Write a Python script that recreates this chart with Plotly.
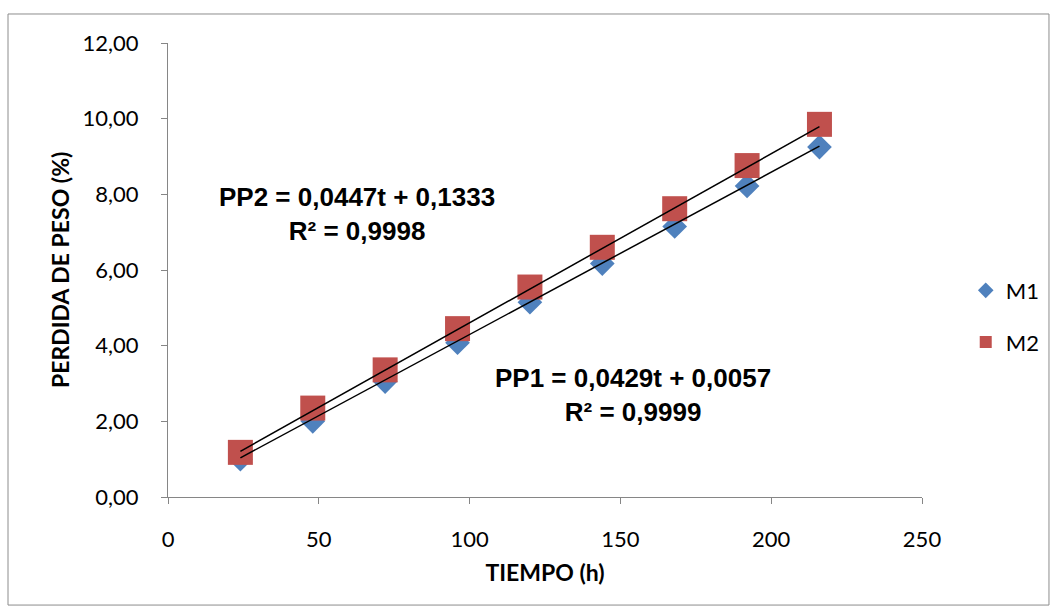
import plotly.graph_objects as go

# Tiempo de ensayo (h)
tiempo = [24, 48, 72, 96, 120, 144, 168, 192, 216]

# Pérdida de peso (%) por muestra
m1 = [1.00, 2.00, 3.05, 4.08, 5.15, 6.17, 7.15, 8.22, 9.25]
m2 = [1.18, 2.35, 3.36, 4.45, 5.55, 6.60, 7.62, 8.76, 9.85]

# Ajustes lineales: pendiente, intercepto, R²
pp1 = (0.0429, 0.0057, 0.9999)
pp2 = (0.0447, 0.1333, 0.9998)

y_ticks = [0, 2, 4, 6, 8, 10, 12]
x_ticks = [0, 50, 100, 150, 200, 250]

def trend(coef):
    a, b, _ = coef
    xs = [tiempo[0], tiempo[-1]]
    return xs, [a * x + b for x in xs]

fig = go.Figure()

fig.add_trace(go.Scatter(
    x=tiempo, y=m1, mode="markers", name="M1", legendgroup="m1",
    marker=dict(symbol="diamond", size=19, color="#4F81BD"),
))
fig.add_trace(go.Scatter(
    x=tiempo, y=m2, mode="markers", name="M2", legendgroup="m2",
    marker=dict(symbol="square", size=25, color="#C0504D"),
))

for coef in (pp1, pp2):
    xs, ys = trend(coef)
    fig.add_trace(go.Scatter(
        x=xs, y=ys, mode="lines", showlegend=False, hoverinfo="skip",
        line=dict(color="black", width=1.5),
    ))

eq_font = dict(family="Liberation Sans, Arial", size=26, color="black")

def fmt(v, d):
    return f"{v:.{d}f}".replace(".", ",")

fig.add_annotation(
    x=62.7, y=7.48, xref="x", yref="y", showarrow=False, font=eq_font,
    text=f"<b>PP2 = {fmt(pp2[0], 4)}t + {fmt(pp2[1], 4)}<br>R² = {fmt(pp2[2], 4)}</b>",
    align="center",
)
fig.add_annotation(
    x=154.2, y=2.70, xref="x", yref="y", showarrow=False, font=eq_font,
    text=f"<b>PP1 = {fmt(pp1[0], 4)}t + {fmt(pp1[1], 4)}<br>R² = {fmt(pp1[2], 4)}</b>",
    align="center",
)

label_font = "Lato, Calibri, sans-serif"

# Título del eje Y
fig.add_annotation(
    x=-0.1432, y=0.5, xref="paper", yref="paper", showarrow=False,
    textangle=-90, xanchor="center", yanchor="middle",
    text="<b>PERDIDA DE PESO (%)</b>",
    font=dict(family=label_font, size=23, color="black"),
)

# Marco exterior del gráfico
fig.add_shape(
    type="rect", xref="paper", yref="paper",
    x0=-0.2122, x1=1.1684, y0=-0.238, y1=1.0639,
    line=dict(color="#8C8C8C", width=1), fillcolor="rgba(0,0,0,0)", layer="below",
)

axis_common = dict(
    showgrid=False, zeroline=False, showline=True,
    linecolor="#868686", linewidth=1.3,
    ticks="outside", ticklen=6, tickcolor="#868686",
    tickfont=dict(family=label_font, size=22, color="black"),
)

fig.update_xaxes(
    range=[0, 250], tickvals=x_ticks, ticklabelstandoff=16,
    title=dict(text="<b>TIEMPO (h)</b>", standoff=14,
               font=dict(family=label_font, size=23, color="black")),
    **axis_common,
)
fig.update_yaxes(
    range=[0, 12], tickvals=y_ticks, tickformat=".2f", ticklabelstandoff=18,
    **axis_common,
)

fig.update_layout(
    width=1057, height=613,
    margin=dict(l=168, r=135, t=43, b=116, autoexpand=False),
    paper_bgcolor="white", plot_bgcolor="white",
    separators=",.",
    legend=dict(
        x=1.058, y=0.3975, xanchor="left", yanchor="middle",
        font=dict(family=label_font, size=22, color="black"),
        itemsizing="constant", itemwidth=30, tracegroupgap=20,
        bgcolor="rgba(0,0,0,0)",
    ),
    showlegend=True,
)

fig.write_html("out.html")
